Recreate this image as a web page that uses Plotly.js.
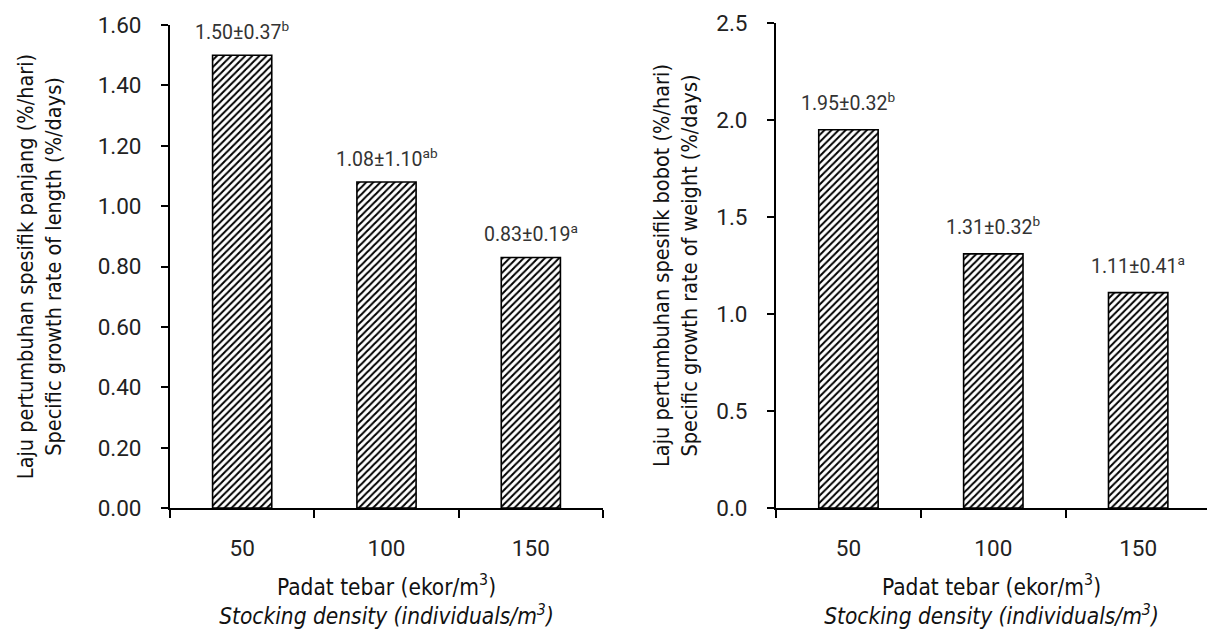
<!DOCTYPE html>
<html>
<head>
<meta charset="utf-8">
<script src="https://cdn.plot.ly/plotly-3.0.1.min.js"></script>
<style>html,body{margin:0;padding:0;background:#fff;}#chart{width:1207px;height:636px;}</style>
</head>
<body>
<div id="chart"></div>
<script>
// Data
const categories = ['50', '100', '150'];
const lengthRate = [1.50, 1.08, 0.83];
const weightRate = [1.95, 1.31, 1.11];
const lengthLabels = ['1.50±0.37<sup>b</sup>', '1.08±1.10<sup>ab</sup>', '0.83±0.19<sup>a</sup>'];
const weightLabels = ['1.95±0.32<sup>b</sup>', '1.31±0.32<sup>b</sup>', '1.11±0.41<sup>a</sup>'];
const lengthTicks = [0, 0.2, 0.4, 0.6, 0.8, 1.0, 1.2, 1.4, 1.6];
const lengthTickText = ['0.00', '0.20', '0.40', '0.60', '0.80', '1.00', '1.20', '1.40', '1.60'];
const weightTicks = [0, 0.5, 1.0, 1.5, 2.0, 2.5];
const weightTickText = ['0.0', '0.5', '1.0', '1.5', '2.0', '2.5'];
const xTitle = 'Padat tebar (ekor/m<sup>3</sup>)<br><i>Stocking density (individuals/m<sup>3</sup>)</i>';
const yTitleLeft = 'Laju pertumbuhan spesifik panjang (%/hari)<br>Specific growth rate of length (%/days)';
const yTitleRight = 'Laju pertumbuhan spesifik bobot (%/hari)<br>Specific growth rate of weight (%/days)';

const TICKFONT = 'Roboto, Liberation Sans, Arial, sans-serif';
const TITLEFONT = 'Liberation Sans Narrow, DejaVu Sans Condensed, Liberation Sans, sans-serif';
const W = 1207, H = 636;

const barStyle = {
  color: '#ffffff',
  line: {color: '#000', width: 1.6},
  pattern: {shape: '/', fgcolor: '#000', bgcolor: '#fff', size: 5, solidity: 0.4}
};

const traces = [
  {type: 'bar', x: categories, y: lengthRate, xaxis: 'x', yaxis: 'y', width: 0.41, marker: barStyle, hoverinfo: 'none'},
  {type: 'bar', x: categories, y: weightRate, xaxis: 'x2', yaxis: 'y2', width: 0.41, marker: barStyle, hoverinfo: 'none'}
];

function xAxis(domain, anchor, range) {
  return {
    domain: domain, anchor: anchor, type: 'category', range: range,
    tickson: 'boundaries', ticks: 'outside', ticklen: 8, tickwidth: 2, tickcolor: '#000',
    showline: true, linewidth: 2, linecolor: '#000', showgrid: false, zeroline: false,
    tickfont: {family: TICKFONT, size: 22.5, color: '#222'}, ticklabelstandoff: 19,
    title: {text: xTitle, font: {family: TITLEFONT, size: 22.5, color: '#111'}, standoff: 19}
  };
}
function yAxis(domain, anchor, range, tv, tt, title, standoff) {
  return {
    domain: domain, anchor: anchor, range: range, tickvals: tv, ticktext: tt,
    ticks: 'outside', ticklen: 7, tickwidth: 2, tickcolor: '#000',
    showline: true, linewidth: 2, linecolor: '#000', showgrid: false, zeroline: false,
    tickfont: {family: TICKFONT, size: 22.5, color: '#222'}, ticklabelstandoff: 15,
    title: {text: title, font: {family: TITLEFONT, size: 21.5, color: '#111'}, standoff: standoff}
  };
}

const annotations = [];
categories.forEach((c, i) => {
  annotations.push({xref: 'x', yref: 'y', x: i, y: lengthRate[i], text: lengthLabels[i], showarrow: false,
    xanchor: 'center', yanchor: 'bottom', yshift: 9, font: {family: TICKFONT, size: 19.5, color: '#333'}});
  annotations.push({xref: 'x2', yref: 'y2', x: i, y: weightRate[i], text: weightLabels[i], showarrow: false,
    xanchor: 'center', yanchor: 'bottom', yshift: 13, font: {family: TICKFONT, size: 19.5, color: '#333'}});
});

const layout = {
  width: W, height: H,
  margin: {l: 0, r: 0, t: 0, b: 0},
  paper_bgcolor: '#fff', plot_bgcolor: '#fff',
  showlegend: false,
  xaxis: xAxis([170 / W, 603 / W], 'y', [-0.5, 2.5]),
  xaxis2: xAxis([776 / W, 1], 'y2', [-0.5, 2.475]),
  yaxis: yAxis([1 - 508 / H, 1 - 25 / H], 'x', [0, 1.6], lengthTicks, lengthTickText, yTitleLeft, 30),
  yaxis2: yAxis([1 - 508 / H, 1 - 23 / H], 'x2', [0, 2.5], weightTicks, weightTickText, yTitleRight, 13),
  annotations: annotations
};

Plotly.newPlot('chart', traces, layout, {displayModeBar: false, staticPlot: true});
</script>
</body>
</html>
